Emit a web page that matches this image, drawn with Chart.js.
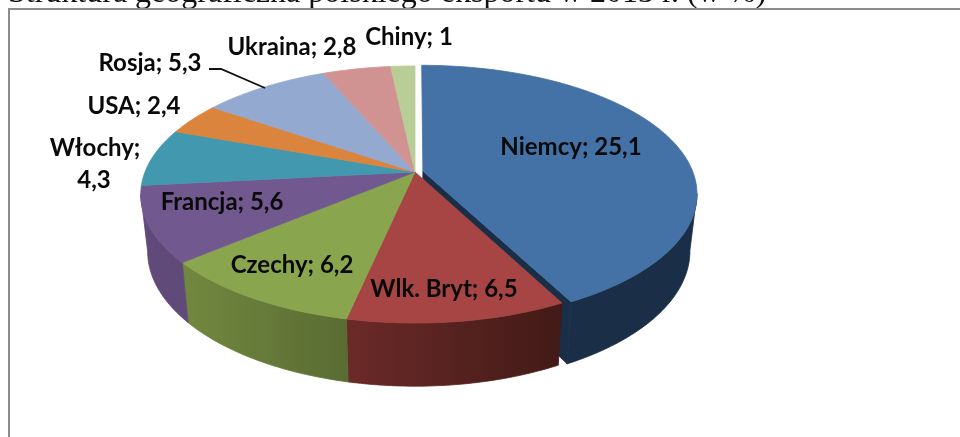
<!DOCTYPE html>
<html lang="pl">
<head>
<meta charset="utf-8">
<title>Struktura geograficzna polskiego eksportu</title>
<script src="https://cdn.jsdelivr.net/npm/chart.js@4"></script>
<style>
html,body{margin:0;padding:0;background:#fff;overflow:hidden}
#wrap{position:relative;width:960px;height:437px}
canvas{display:block;filter:blur(0.4px)}
</style>
</head>
<body>
<div id="wrap"><canvas id="c" width="960" height="437"></canvas></div>
<script>
const titleText = 'Struktura geograficzna polskiego eksportu w 2013 r. (w %)';
const countries = ['Niemcy','Wlk. Bryt','Czechy','Francja','Włochy','USA','Rosja','Ukraina','Chiny'];
const shares = [25.1,6.5,6.2,5.6,4.3,2.4,5.3,2.8,1];
const topColors = ['#4471A6','#A64543','#89A54E','#71588F','#4198AF','#DB843D','#93A9CF','#D19392','#B9CD96'];
const wallStart = ['#1B2E47','#6B2A28','#72883F','#5F4A79','#35798C','#A8652E','#70829F','#A27170','#8FA073'];
const wallEnd = ['#1B2E47','#421A17','#5A6C33','#5F4A79','#35798C','#A8652E','#70829F','#A27170','#8FA073'];
const explodedSlice = [0.03,0,0,0,0,0,0,0,0];

// label layout: [centre x, centre y] of each text line
const labelLines = [
  [[571,147]],[[444,289]],[[292,265]],[[222,202]],
  [[95,148],[94,180]],[[134,106]],[[150,63]],[[292,47]],[[409,37]]
];
const leaderLine = [[209,69],[221,69],[265,88]];

// projection of the pie's plane: perspective view from above
const CX=415, CY=172, RX=270, RY=124.6, K=0.175;
function project(u,v){const w=1+K*v;return [CX+RX*u/w, CY-RY*v/w];}
function lower(p){return [CX+(p[0]-CX)*0.975, p[1]*1.05+47];}
function rim(theta,e,off){
  const u=Math.sin(theta)+e*Math.sin(off), v=Math.cos(theta)+e*Math.cos(off);
  return project(u,v);
}
function sampleArc(a,b,e,off){
  const n=Math.max(2,Math.ceil((b-a)/0.02)), pts=[];
  for(let i=0;i<=n;i++) pts.push(rim(a+(b-a)*i/n,e,off));
  return pts;
}
function poly(ctx,pts,fill){
  ctx.beginPath();pts.forEach((p,i)=>i?ctx.lineTo(p[0],p[1]):ctx.moveTo(p[0],p[1]));
  ctx.closePath();ctx.fillStyle=fill;ctx.fill();ctx.strokeStyle=fill;ctx.lineWidth=0.8;ctx.stroke();
}

const pie3d = {
  id:'pie3d',
  beforeDatasetDraw(chart){
    const ctx=chart.ctx, arcs=chart.getDatasetMeta(0).data;
    const slices=arcs.map((arc,i)=>{
      const a=arc.startAngle+Math.PI/2, b=arc.endAngle+Math.PI/2;
      const e=explodedSlice[i], off=(a+b)/2;
      return {a,b,e,off,i,apex:project(e*Math.sin(off),e*Math.cos(off)),pts:sampleArc(a,b,e,off)};
    });
    const edge=Math.asin(K);
    const wall=s=>{
      const lo=Math.max(s.a,Math.PI/2+edge), hi=Math.min(s.b,3*Math.PI/2-edge);
      if(hi<=lo) return;
      const t=sampleArc(lo,hi,s.e,s.off), bt=t.map(lower).reverse();
      const x0=Math.min(...t.map(p=>p[0])), x1=Math.max(...t.map(p=>p[0]));
      const g=ctx.createLinearGradient(x0,0,x1,0);
      g.addColorStop(0,wallStart[s.i]);g.addColorStop(1,wallEnd[s.i]);
      poly(ctx,t.concat(bt),g);
    };
    const face=s=>poly(ctx,[s.apex].concat(s.pts),arcs[s.i].options.backgroundColor);
    ctx.save();
    // exploded slice: walls first, so the other slices cover them
    slices.filter(s=>s.e>0).forEach(s=>{
      const end=s.pts[s.pts.length-1];
      poly(ctx,[s.apex,end,lower(end),lower(s.apex)],wallStart[s.i]);
      wall(s);
    });
    slices.filter(s=>s.e===0).forEach(wall);
    slices.filter(s=>s.e===0).forEach(face);
    slices.filter(s=>s.e>0).forEach(face);
    ctx.restore();
    return false;
  },
  afterDraw(chart){
    const ctx=chart.ctx;
    ctx.save();
    // page heading, cut by the top of the picture
    ctx.fillStyle='#111';ctx.font='32px "Liberation Serif"';
    ctx.textAlign='left';ctx.textBaseline='alphabetic';
    ctx.fillText(titleText,8,2);
    // frame
    ctx.strokeStyle='#8C8C8C';ctx.lineWidth=2;
    ctx.beginPath();ctx.moveTo(9,437);ctx.lineTo(9,9);ctx.lineTo(960,9);ctx.stroke();
    // leader
    ctx.strokeStyle='#111';ctx.lineWidth=1.8;ctx.beginPath();
    leaderLine.forEach((p,i)=>i?ctx.lineTo(p[0],p[1]):ctx.moveTo(p[0],p[1]));ctx.stroke();
    // labels
    ctx.fillStyle='#0A0A0A';ctx.font='bold 24px Lato';ctx.textAlign='center';ctx.textBaseline='middle';
    countries.forEach((name,i)=>{
      const val=String(shares[i]).replace('.',',');
      const lines=labelLines[i].length>1?[name+';',val]:[name+'; '+val];
      lines.forEach((t,j)=>ctx.fillText(t,labelLines[i][j][0],labelLines[i][j][1]));
    });
    ctx.restore();
  }
};

new Chart(document.getElementById('c'),{
  type:'pie',
  data:{labels:countries,datasets:[{data:shares,backgroundColor:topColors,borderWidth:0}]},
  options:{responsive:false,animation:false,
    plugins:{legend:{display:false},tooltip:{enabled:false},title:{display:false}}},
  plugins:[pie3d]
});
</script>
</body>
</html>
